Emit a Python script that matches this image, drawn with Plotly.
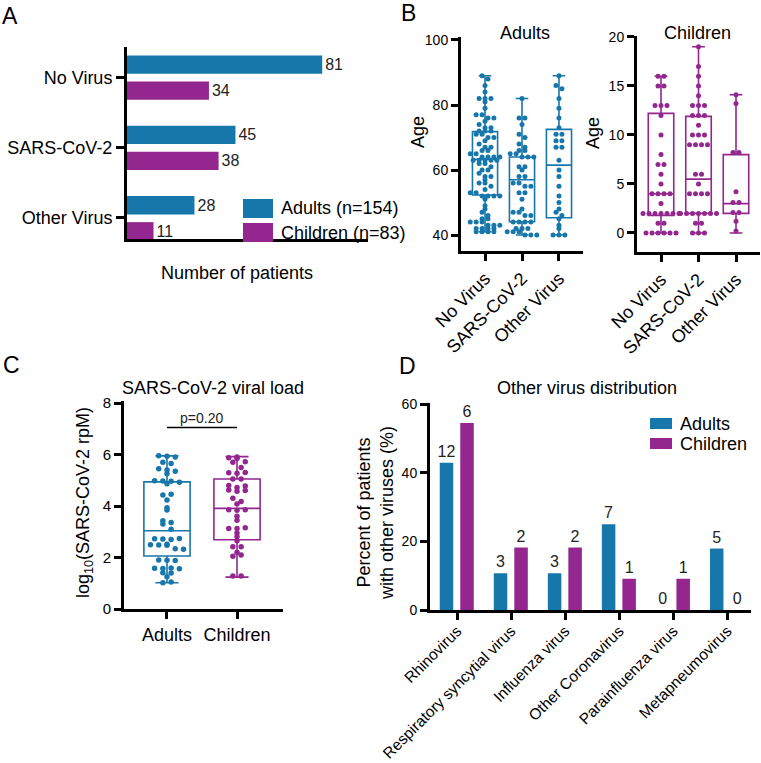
import plotly.graph_objects as go

W, H = 761, 763
BLUE = '#1777AB'
PURPLE = '#93278F'
FONT = 'Liberation Sans, Arial, sans-serif'

# ---------------- Panel A data ----------------
a_categories = ['No Virus', 'SARS-CoV-2', 'Other Virus']
a_adults = [81, 45, 28]
a_children = [34, 38, 11]
a_legend = ['Adults (n=154)', 'Children (n=83)']

# ---------------- Panel B data ----------------
b_categories = ['No Virus', 'SARS-CoV-2', 'Other Virus']
b_adult_novirus = [89, 88, 86, 84, 82, 82, 82, 81, 79, 77, 77, 76, 76, 75, 74, 73, 73, 72, 72, 72,
                   71, 71, 70, 70, 69, 68, 67, 67, 66, 66, 65, 65, 64, 64, 64, 64, 63, 63, 63, 63,
                   63,
                   62, 62, 61, 60, 60, 59, 58, 58, 57, 56, 56, 55, 54, 53, 53, 52, 52, 52, 52, 51,
                   49, 48, 47, 46, 45, 45, 44, 44, 44, 43, 43, 43, 42, 42, 42, 42, 41, 41, 41, 41]
b_adult_sars = [82, 76, 76, 74, 71, 70, 68, 67, 66, 66, 65, 65, 64, 64, 64, 61, 61, 60, 58, 58,
                56, 56, 55, 55, 53, 53, 51, 48, 47, 47, 46, 46, 44, 44, 44, 44, 42, 42, 42, 41,
                41, 41, 40, 40, 40]
b_adult_other = [89, 86, 85, 82, 79, 76, 73, 71, 71, 69, 69, 67, 67, 63,
                 60, 58, 55, 52, 50, 48, 47, 46, 45, 43, 42, 40, 40, 40]
b_child_novirus = [16, 16, 15, 15, 13, 13, 13, 12, 10, 8, 7, 7, 6, 5, 4, 4, 4, 4, 3,
                   2, 2, 2, 2, 2, 2, 2, 1, 1, 0, 0, 0, 0, 0, 0]
b_child_sars = [19, 17, 16, 15, 14, 13, 13, 13, 12, 12, 12, 11, 10, 10, 10, 9, 9, 9, 9,
                6, 6, 5, 4, 4, 4, 4, 2, 2, 2, 2, 2, 2, 2, 1, 1, 0, 0, 0]
b_child_other = [14.1, 13.2, 8.2, 8.2, 4.2, 3.1, 3.1, 2.1, 2.1, 1.2, 0.2]

b_adult_q1 = [52.3, 44.1, 45.3]
b_adult_median = [63.3, 57.0, 61.5]
b_adult_q3 = [71.8, 64.0, 72.5]
b_adult_min = [41, 40, 40]
b_adult_max = [89, 82, 89]
b_child_q1 = [1.8, 2.0, 2.0]
b_child_median = [4.0, 5.5, 3.0]
b_child_q3 = [12.2, 11.9, 8.0]
b_child_min = [0, 0, 0]
b_child_max = [16, 19, 14.1]

# ---------------- Panel C data ----------------
c_groups = ['Adults', 'Children']
c_adults = [5.95, 5.93, 5.90, 5.70, 5.65, 5.45, 5.40, 5.35, 5.25, 4.98, 4.97, 4.96, 4.92, 4.87,
            4.43, 4.46, 4.23, 3.85, 3.93, 3.43, 3.36, 3.30, 3.10, 2.73, 2.72, 2.70, 2.74,
            2.50, 2.49, 2.48, 2.52, 2.34, 2.32, 1.90, 1.89, 1.88, 1.58, 1.57, 1.59, 1.56,
            1.41, 1.40, 1.25, 1.02, 1.05]
c_children = [5.88, 5.90, 5.85, 5.72, 5.70, 5.50, 5.29, 5.27, 5.30, 5.05, 5.05, 4.80, 4.72,
              4.78, 4.62, 4.57, 4.60, 4.30, 4.18, 4.08, 3.86, 3.84, 3.86, 3.60, 3.45, 3.13,
              3.13, 3.16, 2.95, 2.81, 2.65, 2.42, 2.42, 2.20, 2.05, 2.10, 1.28, 1.28]
c_q1 = [2.06, 2.69]
c_median = [3.04, 3.91]
c_q3 = [4.94, 5.05]
c_min = [1.02, 1.24]
c_max = [5.95, 5.92]
c_pvalue = 'p=0.20'
c_bracket_y = 7.05

# ---------------- Panel D data ----------------
d_viruses = ['Rhinovirus', 'Respiratory syncytial virus', 'Influenza virus',
             'Other Coronavirus', 'Parainfluenza virus', 'Metapneumovirus']
d_adult_pct = [42.9, 10.7, 10.7, 25.0, 0.0, 17.9]
d_child_pct = [54.5, 18.2, 18.2, 9.1, 9.1, 0.0]
d_adult_n = [12, 3, 3, 7, 0, 5]
d_child_n = [6, 2, 2, 1, 1, 0]
d_legend = ['Adults', 'Children']


def dom_x(x0, x1):
    return [x0 / W, x1 / W]


def dom_y(y0, y1):
    return [1 - y1 / H, 1 - y0 / H]


def px(x):
    return x / W


def py(y):
    return 1 - y / H


def axis(**kw):
    base = dict(showline=True, linecolor='black', linewidth=3, ticks='outside', ticklen=7,
                tickwidth=3, tickcolor='black', showgrid=False, zeroline=False, automargin=False,
                tickfont=dict(size=14, color='black', family=FONT))
    base.update(kw)
    return base


def swarm(values, bin_size, step):
    rows = {}
    for v in values:
        rows.setdefault(round(v / bin_size), []).append(v)
    offs, ys = [], []
    for vs in rows.values():
        n = len(vs)
        for i, v in enumerate(vs):
            offs.append((i - (n - 1) / 2) * step)
            ys.append(v)
    return offs, ys


fig = go.Figure()

# ---------- Panel A ----------
a_pos = list(range(len(a_categories)))
for vals, color, off, name in [(a_adults, BLUE, -0.31, a_legend[0]),
                               (a_children, PURPLE, 0.06, a_legend[1])]:
    fig.add_trace(go.Bar(y=a_pos, x=vals, orientation='h', marker=dict(color=color, line=dict(width=0)),
                         width=0.26, offset=off, text=[str(v) for v in vals], textposition='outside',
                         constraintext='none', textfont=dict(size=16, color='#222', family=FONT),
                         cliponaxis=False, name=name, showlegend=False, xaxis='x', yaxis='y'))

# ---------- Panel B ----------
b_pos = list(range(len(b_categories)))
for (xa, ya, color, q1, med, q3, lo, hi, groups, binsz, step, msize) in [
    ('x2', 'y2', BLUE, b_adult_q1, b_adult_median, b_adult_q3, b_adult_min, b_adult_max,
     [b_adult_novirus, b_adult_sars, b_adult_other], 1.5, 0.16, 5),
    ('x3', 'y3', PURPLE, b_child_q1, b_child_median, b_child_q3, b_child_min, b_child_max,
     [b_child_novirus, b_child_sars, b_child_other], 1.0, 0.16, 5),
]:
    fig.add_trace(go.Box(x=b_pos, q1=q1, median=med, q3=q3, lowerfence=lo, upperfence=hi,
                         width=0.68, whiskerwidth=0.5, boxpoints=False,
                         line=dict(color=color, width=1.6), fillcolor='rgba(0,0,0,0)',
                         showlegend=False, xaxis=xa, yaxis=ya))
    for p, vals in zip(b_pos, groups):
        offs, ys = swarm(vals, binsz, step)
        fig.add_trace(go.Scatter(x=[p + o for o in offs], y=ys, mode='markers',
                                 marker=dict(color=color, size=msize), showlegend=False,
                                 cliponaxis=False, xaxis=xa, yaxis=ya))

# ---------- Panel C ----------
c_pos = list(range(len(c_groups)))
for p, color, vals in zip(c_pos, [BLUE, PURPLE], [c_adults, c_children]):
    fig.add_trace(go.Box(x=[p], q1=[c_q1[p]], median=[c_median[p]], q3=[c_q3[p]],
                         lowerfence=[c_min[p]], upperfence=[c_max[p]],
                         width=0.66, whiskerwidth=0.5, boxpoints=False,
                         line=dict(color=color, width=1.6), fillcolor='rgba(0,0,0,0)',
                         showlegend=False, xaxis='x4', yaxis='y4'))
    offs, ys = swarm(vals, 0.2, 0.118)
    fig.add_trace(go.Scatter(x=[p + o for o in offs], y=ys, mode='markers',
                             marker=dict(color=color, size=5.5), showlegend=False,
                             cliponaxis=False, xaxis='x4', yaxis='y4'))

# ---------- Panel D ----------
d_pos = list(range(len(d_viruses)))
for vals, counts, color, off, name in [(d_adult_pct, d_adult_n, BLUE, -0.32, d_legend[0]),
                                       (d_child_pct, d_child_n, PURPLE, 0.06, d_legend[1])]:
    fig.add_trace(go.Bar(x=d_pos, y=vals, marker=dict(color=color, line=dict(width=0)),
                         width=0.25, offset=off, text=[str(c) for c in counts], textposition='outside',
                         constraintext='none', textfont=dict(size=16, color='#222', family=FONT),
                         cliponaxis=False, name=name, showlegend=False, xaxis='x5', yaxis='y5'))

# ---------- Layout ----------
layout = dict(
    width=W, height=H, margin=dict(l=0, r=0, t=0, b=0, autoexpand=False),
    paper_bgcolor='white', plot_bgcolor='white', barmode='overlay',
    font=dict(family=FONT, color='black', size=14),
    showlegend=False,
    xaxis=axis(domain=dom_x(127, 368), range=[0, 100], ticks='', showticklabels=False, anchor='y'),
    yaxis=axis(domain=dom_y(47, 239), range=[2.30, -0.43], tickvals=a_pos, ticktext=a_categories,
               ticklen=8, tickfont=dict(size=18, color='black', family=FONT), anchor='x'),
    xaxis2=axis(domain=dom_x(461, 583), range=[-0.65, 2.65], tickvals=b_pos, ticktext=b_categories,
                tickangle=-45, tickfont=dict(size=18, color='black', family=FONT), anchor='y2'),
    yaxis2=axis(domain=dom_y(37, 251), range=[35.08, 100.92], tickvals=[40, 60, 80, 100], anchor='x2'),
    xaxis3=axis(domain=dom_x(637, 760), range=[-0.64, 2.64], tickvals=b_pos, ticktext=b_categories,
                tickangle=-45, tickfont=dict(size=18, color='black', family=FONT), anchor='y3'),
    yaxis3=axis(domain=dom_y(36, 252), range=[-1.94, 20.1], tickvals=[0, 5, 10, 15, 20], anchor='x3'),
    xaxis4=axis(domain=dom_x(124, 283), range=[-0.614, 1.657], tickvals=c_pos, ticktext=c_groups,
                tickfont=dict(size=18, color='black', family=FONT), anchor='y4'),
    yaxis4=axis(domain=dom_y(401, 609), range=[0, 8.08], tickvals=[0, 2, 4, 6, 8],
                tickfont=dict(size=15, color='black', family=FONT), anchor='x4'),
    xaxis5=axis(domain=dom_x(430, 751), range=[-0.5, 5.44], tickvals=d_pos, ticktext=d_viruses,
                tickangle=-45, ticklabelstandoff=-4,
                tickfont=dict(size=15.5, color='black', family=FONT), anchor='y5'),
    yaxis5=axis(domain=dom_y(403, 610), range=[0, 60.3], tickvals=[0, 20, 40, 60], anchor='x5'),
)

annotations = []


def ann(text, x, y, size=18, angle=0, xanchor='center', yanchor='middle', color='black'):
    annotations.append(dict(text=text, x=px(x), y=py(y), xref='paper', yref='paper',
                            showarrow=False, textangle=angle, xanchor=xanchor, yanchor=yanchor,
                            font=dict(size=size, color=color, family=FONT)))


ann('A', 10, 16, 23)
ann('B', 408, 13, 23)
ann('C', 12, 365, 23)
ann('D', 407, 366, 23)
ann('Number of patients', 237, 273)
ann('Adults', 525, 33)
ann('Children', 697, 33)
ann('Age', 418, 132, angle=-90)
ann('Age', 593, 133, angle=-90)
ann('SARS-CoV-2 viral load', 213, 388)
ann('log<sub>10</sub>(SARS-CoV-2 rpM)', 84, 503, angle=-90)
ann('Other virus distribution', 587, 388)
ann('Percent of patients<br>with other viruses (%)', 375, 513, angle=-90)

# legends (swatch + label)
shapes = []
for (x0, x1, y0, y1, color, label, tx, ty) in [
    (243, 273, 199, 218, BLUE, a_legend[0], 279, 208.5),
    (243, 273, 223, 242, PURPLE, a_legend[1], 279, 232.5),
    (650, 672, 418, 429, BLUE, d_legend[0], 678, 423.5),
    (650, 672, 438, 449, PURPLE, d_legend[1], 678, 443.5),
]:
    shapes.append(dict(type='rect', xref='paper', yref='paper', x0=px(x0), x1=px(x1),
                       y0=py(y1), y1=py(y0), fillcolor=color, line=dict(width=0)))
    ann(label, tx, ty, 18, xanchor='left')

# p-value bracket
shapes.append(dict(type='line', xref='x4', yref='y4', x0=c_pos[0], x1=c_pos[1],
                   y0=c_bracket_y, y1=c_bracket_y, line=dict(color='black', width=1.5)))
annotations.append(dict(text=c_pvalue, x=0.5, y=c_bracket_y, xref='x4', yref='y4', showarrow=False,
                        yanchor='bottom', yshift=0, font=dict(size=14, color='#222', family=FONT)))

layout['annotations'] = annotations
layout['shapes'] = shapes
fig.update_layout(**layout)

fig.write_html('out.html', config={'displayModeBar': False},
               post_script="document.body.style.margin='0';document.body.style.padding='0';")
